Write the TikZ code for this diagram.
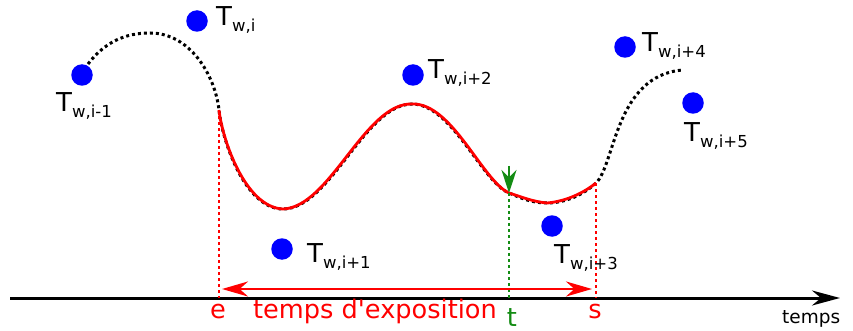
\documentclass[tikz,border=0pt]{standalone}
\usepackage{fontspec}
\setmainfont{DejaVu Sans}[Ligatures=TeXOff]
\usetikzlibrary{arrows.meta,positioning}
\definecolor{ptblue}{RGB}{0,0,255}
\definecolor{expred}{RGB}{255,0,0}
\definecolor{tgreen}{RGB}{20,140,20}
\newcommand{\twlabel}[1]{T\raisebox{-6pt}{\fontsize{16.5}{19}\selectfont w,#1}}

\begin{document}
\begin{tikzpicture}[
  x=1pt, y=-1pt,
  tdot/.style={circle, fill=ptblue, minimum size=21.5pt, inner sep=0pt},
  tlabel/.style={anchor=base west, inner sep=0pt, font=\fontsize{26}{30}\selectfont},
  axlabel/.style={anchor=base, inner sep=0pt, font=\fontsize{25.6}{30}\selectfont},
  dotcurve/.style={line width=3pt, dash pattern=on 3pt off 3pt},
  vdots/.style={line width=2.8pt, dash pattern=on 3pt off 3pt},
  exptip/.tip={Stealth[length=26pt, width=15pt]}
]
\useasboundingbox (0,0) rectangle (853,331);

% curve points
\coordinate (c0) at (88,64);
\coordinate (c1) at (150,33);
\coordinate (eTop) at (219,110);
\coordinate (c3) at (283,209);
\coordinate (c4) at (412,104);
\coordinate (tTop) at (509,193);
\coordinate (c6) at (547,203);
\coordinate (sTop) at (596,183);
\coordinate (c8) at (683,70);

% time axis
\coordinate (ax0) at (10,298);
\coordinate (ax1) at (840,298);
\draw[line width=3pt, -{Stealth[length=28pt, width=15pt, inset=9pt]}] (ax0) -- (ax1);
\node[anchor=base west, inner sep=0pt, font=\fontsize{18.5}{22}\selectfont] (temps) at (782,323) {temps};

% whole curve
\draw[dotcurve] (c0) .. controls (105,42) and (125,33) .. (c1)
  .. controls (190,33) and (215,75) .. (eTop)
  .. controls (222,140) and (245,209) .. (c3)
  .. controls (330,209) and (365,104) .. (c4)
  .. controls (452,104) and (482,182) .. (tTop)
  .. controls (522,198.5) and (532,203) .. (c6)
  .. controls (565,203) and (583,195) .. (sTop)
  .. controls (615,165) and (615,75) .. (c8);

% exposure part
\draw[expred, line width=2.8pt, yshift=1.5pt] (eTop)
  .. controls (222,140) and (245,209) .. (c3)
  .. controls (330,209) and (365,104) .. (c4)
  .. controls (452,104) and (482,182) .. (tTop)
  .. controls (522,198.5) and (532,203) .. (c6)
  .. controls (565,203) and (583,195) .. (sTop);

\coordinate (eFoot) at (219,298);
\coordinate (sFoot) at (596,298);
\coordinate (tFoot) at (509,300);
\draw[expred, vdots] (eTop) -- (eFoot);
\draw[expred, vdots] (sTop) -- (sFoot);
\draw[tgreen, vdots] (tTop) -- (tFoot);
\coordinate (tHead) at (509,166);
\draw[tgreen, line width=2.4pt, -{Stealth[length=23pt, width=15pt]}] (tHead) -- (tTop);

\coordinate (expL) at (222,289);
\coordinate (expR) at (592,289);
\draw[expred, line width=2.8pt, exptip-exptip] (expL) -- (expR);

\node[axlabel, expred] (eLbl) at (218,318) {e};
\node[axlabel, expred, anchor=base west] (expLbl) at (253,318) {temps d'exposition};
\node[axlabel, tgreen] (tLbl) at (512,326) {t};
\node[axlabel, expred] (sLbl) at (595,318) {s};

% temperature points
\node[tdot] (twm1) at (82,75) {};
\node[tdot] (tw0) at (197,21) {};
\node[tdot] (tw1) at (282,249) {};
\node[tdot] (tw2) at (413,75) {};
\node[tdot] (tw3) at (552,226) {};
\node[tdot] (tw4) at (625,47) {};
\node[tdot] (tw5) at (693,103) {};

\node[tlabel] (twm1-l) at (56,112) {\twlabel{i-1}};
\node[tlabel] (tw0-l) at (216,26) {\twlabel{i}};
\node[tlabel] (tw1-l) at (307,262) {\twlabel{i+1}};
\node[tlabel] (tw2-l) at (428,79) {\twlabel{i+2}};
\node[tlabel] (tw3-l) at (554,263) {\twlabel{i+3}};
\node[tlabel] (tw4-l) at (642,52) {\twlabel{i+4}};
\node[tlabel] (tw5-l) at (684,142) {\twlabel{i+5}};
\end{tikzpicture}
\end{document}
